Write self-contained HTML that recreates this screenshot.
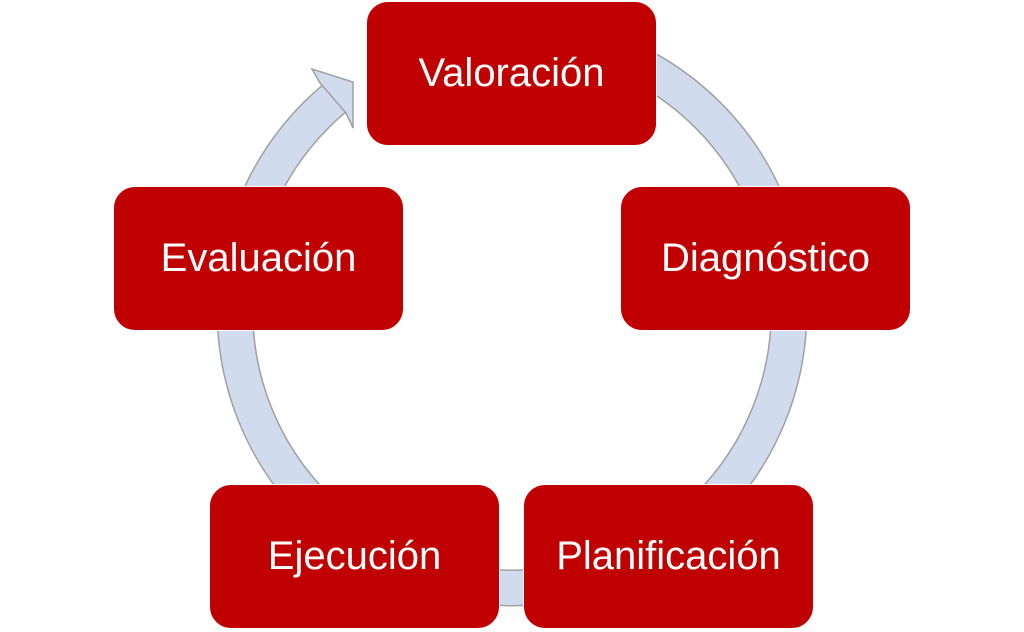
<!DOCTYPE html>
<html><head><style>
body{margin:0;width:1024px;height:632px;background:#fff;position:relative;overflow:hidden;font-family:"Liberation Sans",sans-serif}
.b{position:absolute;box-sizing:border-box;width:291px;height:145px;background:#c00000;border:1px solid #fff;border-radius:22px;color:#fff;font-size:40px;display:flex;align-items:center;justify-content:center}
svg{position:absolute;left:0;top:0}
</style></head><body>
<svg width="1024" height="632">
<circle cx="512" cy="311" r="277" fill="none" stroke="#a0a0a0" stroke-width="37"/>
<circle cx="512" cy="311" r="277" fill="none" stroke="#d0dcee" stroke-width="34"/>
<polygon points="320,83 346,113 366,100 366,20 325,20" fill="#fff"/>
<polygon points="320,83 312,69 353,82 353,128 346,113" fill="#d0dcee" stroke="#a0a0a0" stroke-width="1.5" stroke-linejoin="miter"/>
</svg>
<div class="b" style="left:366px;top:1px">Valoración</div>
<div class="b" style="left:620px;top:186px">Diagnóstico</div>
<div class="b" style="left:523px;top:484px">Planificación</div>
<div class="b" style="left:209px;top:484px">Ejecución</div>
<div class="b" style="left:113px;top:186px">Evaluación</div>
</body></html>
